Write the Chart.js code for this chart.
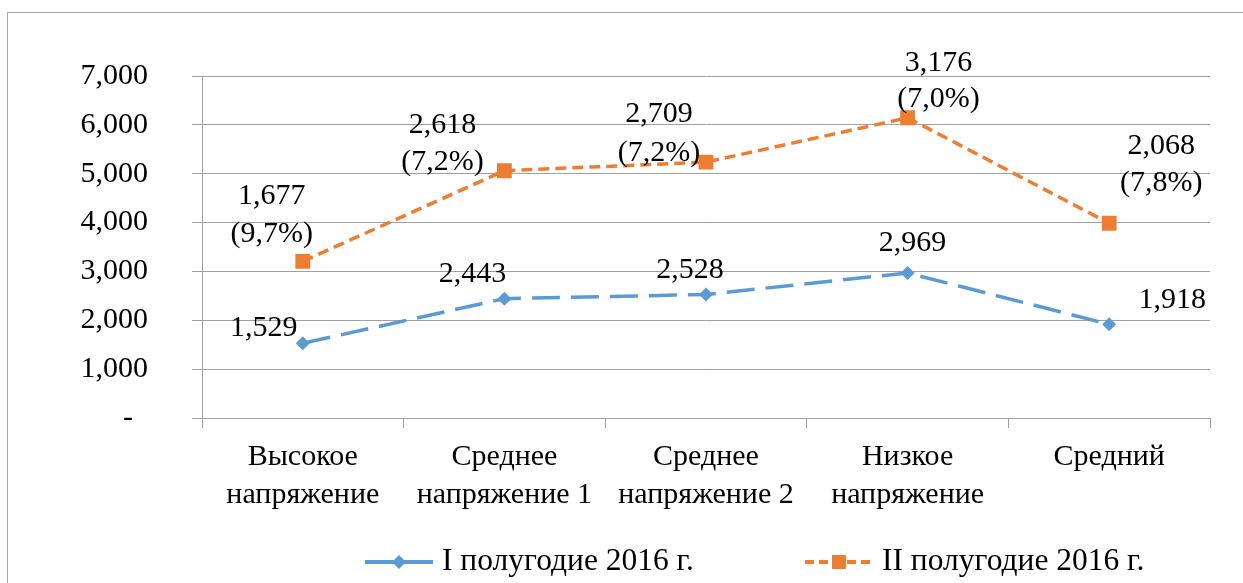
<!DOCTYPE html>
<html>
<head>
<meta charset="utf-8">
<script src="https://cdn.jsdelivr.net/npm/chart.js@4.4.1/dist/chart.umd.min.js"></script>
<style>
  html, body { margin: 0; padding: 0; background: #fff; }
</style>
</head>
<body>
<canvas id="chart" width="1243" height="583"></canvas>
<script>
// data
const categories = [
  ['Высокое', 'напряжение'],
  ['Среднее', 'напряжение 1'],
  ['Среднее', 'напряжение 2'],
  ['Низкое', 'напряжение'],
  ['Средний']
];
const seriesNames     = ['I полугодие 2016 г.', 'II полугодие 2016 г.'];
const firstHalf       = [1529, 2443, 2528, 2969, 1918];
const secondHalf      = [1677, 2618, 2709, 3176, 2068];
const secondHalfShare = ['9,7%', '7,2%', '7,2%', '7,0%', '7,8%'];
const yTickValues     = [0, 1000, 2000, 3000, 4000, 5000, 6000, 7000];

// where each data label sits relative to its point (layout only)
const firstLabelPos  = [[-39, -15], [-32, -25], [-16, -24], [5, -30], [63, -24]];
const secondLabelPos = [[-31, -65, -27], [-62, -46, -9], [-47, -48, -9], [31, -55, -19], [52, -77, -40]];

const FONT  = '"Liberation Serif", "Times New Roman", serif';
const BLUE  = '#5B9BD5';
const ORANGE = '#ED7D31';
const GRID  = '#a0a0a0';

const fmt = v => v.toLocaleString('en-US');

const frame = {
  id: 'frame',
  beforeDraw(chart) {
    const ctx = chart.ctx;
    ctx.save();
    ctx.strokeStyle = '#a6a6a6';
    ctx.lineWidth = 1;
    ctx.strokeRect(7.5, 12.5, 1300, 700);
    ctx.restore();
  }
};

const pointLabels = {
  id: 'pointLabels',
  afterDatasetsDraw(chart) {
    const ctx = chart.ctx;
    ctx.save();
    ctx.font = '30px ' + FONT;
    ctx.fillStyle = '#000';
    ctx.textAlign = 'center';
    ctx.textBaseline = 'middle';
    chart.getDatasetMeta(0).data.forEach((pt, i) => {
      const [dx, dy] = firstLabelPos[i];
      ctx.fillText(fmt(firstHalf[i]), pt.x + dx, pt.y + dy);
    });
    chart.getDatasetMeta(1).data.forEach((pt, i) => {
      const [dx, dy1, dy2] = secondLabelPos[i];
      ctx.fillText(fmt(secondHalf[i]), pt.x + dx, pt.y + dy1);
      ctx.fillText('(' + secondHalfShare[i] + ')', pt.x + dx, pt.y + dy2);
    });
    ctx.restore();
  }
};

// Excel-like legend: line + marker + text
const legendRow = {
  id: 'legendRow',
  afterDraw(chart) {
    const ctx = chart.ctx;
    const y = 562;
    const items = [
      { x: 365, color: BLUE,   dash: [],     marker: 'diamond' },
      { x: 805, color: ORANGE, dash: [9, 5], marker: 'square' }
    ];
    ctx.save();
    items.forEach((it, i) => {
      ctx.strokeStyle = it.color;
      ctx.fillStyle = it.color;
      ctx.lineWidth = 4;
      ctx.setLineDash(it.dash);
      ctx.beginPath();
      ctx.moveTo(it.x, y);
      ctx.lineTo(it.x + 68, y);
      ctx.stroke();
      ctx.setLineDash([]);
      const cx = it.x + 34;
      ctx.beginPath();
      if (it.marker === 'diamond') {
        ctx.moveTo(cx, y - 7); ctx.lineTo(cx + 7, y); ctx.lineTo(cx, y + 7); ctx.lineTo(cx - 7, y);
        ctx.closePath();
      } else {
        ctx.rect(cx - 7, y - 7, 14, 14);
      }
      ctx.fill();
      ctx.fillStyle = '#000';
      ctx.font = '31.5px ' + FONT;
      ctx.textAlign = 'left';
      ctx.textBaseline = 'middle';
      ctx.fillText(seriesNames[i], it.x + 77, y);
    });
    ctx.restore();
  }
};

new Chart(document.getElementById('chart').getContext('2d'), {
  type: 'line',
  data: {
    labels: categories,
    datasets: [{
      label: seriesNames[0],
      data: firstHalf,
      borderColor: BLUE,
      backgroundColor: BLUE,
      borderWidth: 3.5,
      borderDash: [28, 11],
      pointStyle: 'rectRot',
      pointRadius: 7,
      pointBorderWidth: 0,
      tension: 0,
      fill: false
    }, {
      label: seriesNames[1],
      data: secondHalf,
      borderColor: ORANGE,
      backgroundColor: ORANGE,
      borderWidth: 3.5,
      borderDash: [11, 6],
      pointStyle: 'rect',
      pointRadius: 10.5,
      pointBorderWidth: 0,
      tension: 0,
      fill: false
    }]
  },
  options: {
    responsive: false,
    animation: false,
    layout: { padding: { top: 76, right: 33, left: 0, bottom: 0 } },
    plugins: {
      legend: { display: false },
      tooltip: { enabled: false }
    },
    scales: {
      x: {
        offset: true,
        grid: { offset: true, drawOnChartArea: false, tickLength: 10, color: GRID },
        border: { color: GRID },
        ticks: {
          color: '#000',
          font: { family: FONT, size: 30, lineHeight: 38 / 30 },
          padding: 10,
          maxRotation: 0,
          autoSkip: false
        },
        afterFit: s => { s.height = 165; }
      },
      y: {
        stacked: true,
        min: 0,
        max: 7000,
        afterBuildTicks: s => { s.ticks = yTickValues.map(v => ({ value: v })); },
        grid: { color: GRID, tickLength: 10 },
        border: { color: GRID },
        ticks: {
          color: '#000',
          font: { family: FONT, size: 30 },
          padding: 44,
          callback: v => v === 0 ? '-  ' : fmt(v)
        },
        afterFit: s => { s.width = 202; }
      }
    }
  },
  plugins: [frame, pointLabels, legendRow]
});
</script>
</body>
</html>
